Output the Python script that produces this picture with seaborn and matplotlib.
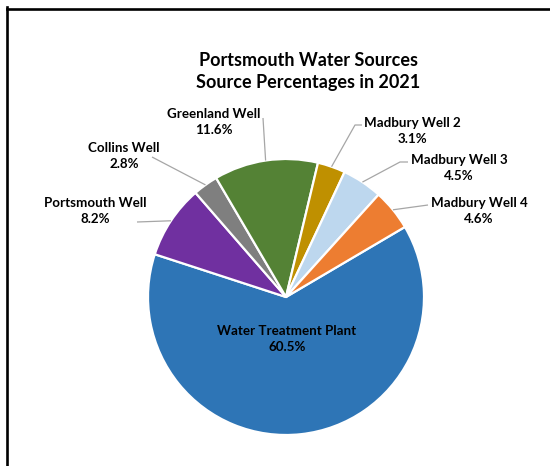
import matplotlib
matplotlib.use("Agg")
import matplotlib.pyplot as plt
from matplotlib.lines import Line2D
import seaborn as sns
import numpy as np

sns.set_theme(style="white")
plt.rcParams['font.family'] = ['Lato', 'DejaVu Sans']

# Data (clockwise order starting with the largest slice)
sources = ["Water Treatment Plant", "Portsmouth Well", "Collins Well", "Greenland Well",
           "Madbury Well 2", "Madbury Well 3", "Madbury Well 4"]
percentages = [60.5, 8.2, 2.8, 11.6, 3.1, 4.5, 4.6]
pct_labels = ["60.5%", "8.2%", "2.8%", "11.6%", "3.1%", "4.5%", "4.6%"]
colors = ["#2E75B6", "#7030A0", "#7F7F7F", "#548235", "#BF9000", "#BDD7EE", "#ED7D31"]
title = "Portsmouth Water Sources\nSource Percentages in 2021"

W, H = 550, 466
fig = plt.figure(figsize=(W / 100, H / 100), dpi=100)
ax = fig.add_axes([0, 0, 1, 1])

cx, cy, r = 286, H - 297, 138
wedges, _ = ax.pie(percentages, colors=colors, startangle=30.5, counterclock=False,
                   center=(cx, cy), radius=r,
                   wedgeprops=dict(edgecolor="white", linewidth=1.6))
ax.set_xlim(0, W)
ax.set_ylim(0, H)
ax.set_aspect("equal")
ax.axis("off")

# label centres (pixels, top-origin) and leader-line end points
label_pos = {
    "Water Treatment Plant": (287, 339),
    "Portsmouth Well": (95, 211),
    "Collins Well": (124, 156),
    "Greenland Well": (214, 122),
    "Madbury Well 2": (412, 131),
    "Madbury Well 3": (459, 168),
    "Madbury Well 4": (479, 211),
}
leader_end = {
    "Portsmouth Well": [(137, 222)],
    "Collins Well": [(152, 157)],
    "Greenland Well": [(263, 118)],
    "Madbury Well 2": [(355, 125), (362, 125)],
    "Madbury Well 3": [(400, 162), (408, 162)],
    "Madbury Well 4": [(428, 205)],
}

for w, name, pl in zip(wedges, sources, pct_labels):
    lx, ly = label_pos[name]
    ax.text(lx, H - ly, f"{name}\n{pl}", ha="center", va="center", fontsize=9.6,
            fontweight="bold", color="#000000", linespacing=1.45)
    if name in leader_end:
        mid = np.deg2rad((w.theta1 + w.theta2) / 2)
        sx, sy = cx + r * np.cos(mid), cy + r * np.sin(mid)
        pts = [(sx, sy)] + [(x, H - y) for x, y in leader_end[name]]
        xs, ys = zip(*pts)
        ax.plot(xs, ys, color="#A6A6A6", lw=0.9, solid_capstyle="butt")

fig.text(308 / W, 1 - 71.5 / H, title, ha="center", va="center", fontsize=13,
         fontweight="bold", color="#000000", linespacing=1.4)

# chart frame (left and top edges visible)
fig.add_artist(Line2D([7 / W, 7 / W], [0, 1 - 7 / H], color="black", lw=1.9,
                      transform=fig.transFigure, solid_capstyle="projecting"))
fig.add_artist(Line2D([7 / W, 1], [1 - 8.5 / H, 1 - 8.5 / H], color="black", lw=1.9,
                      transform=fig.transFigure, solid_capstyle="projecting"))

fig.savefig("out.png", dpi=100, facecolor="white")
